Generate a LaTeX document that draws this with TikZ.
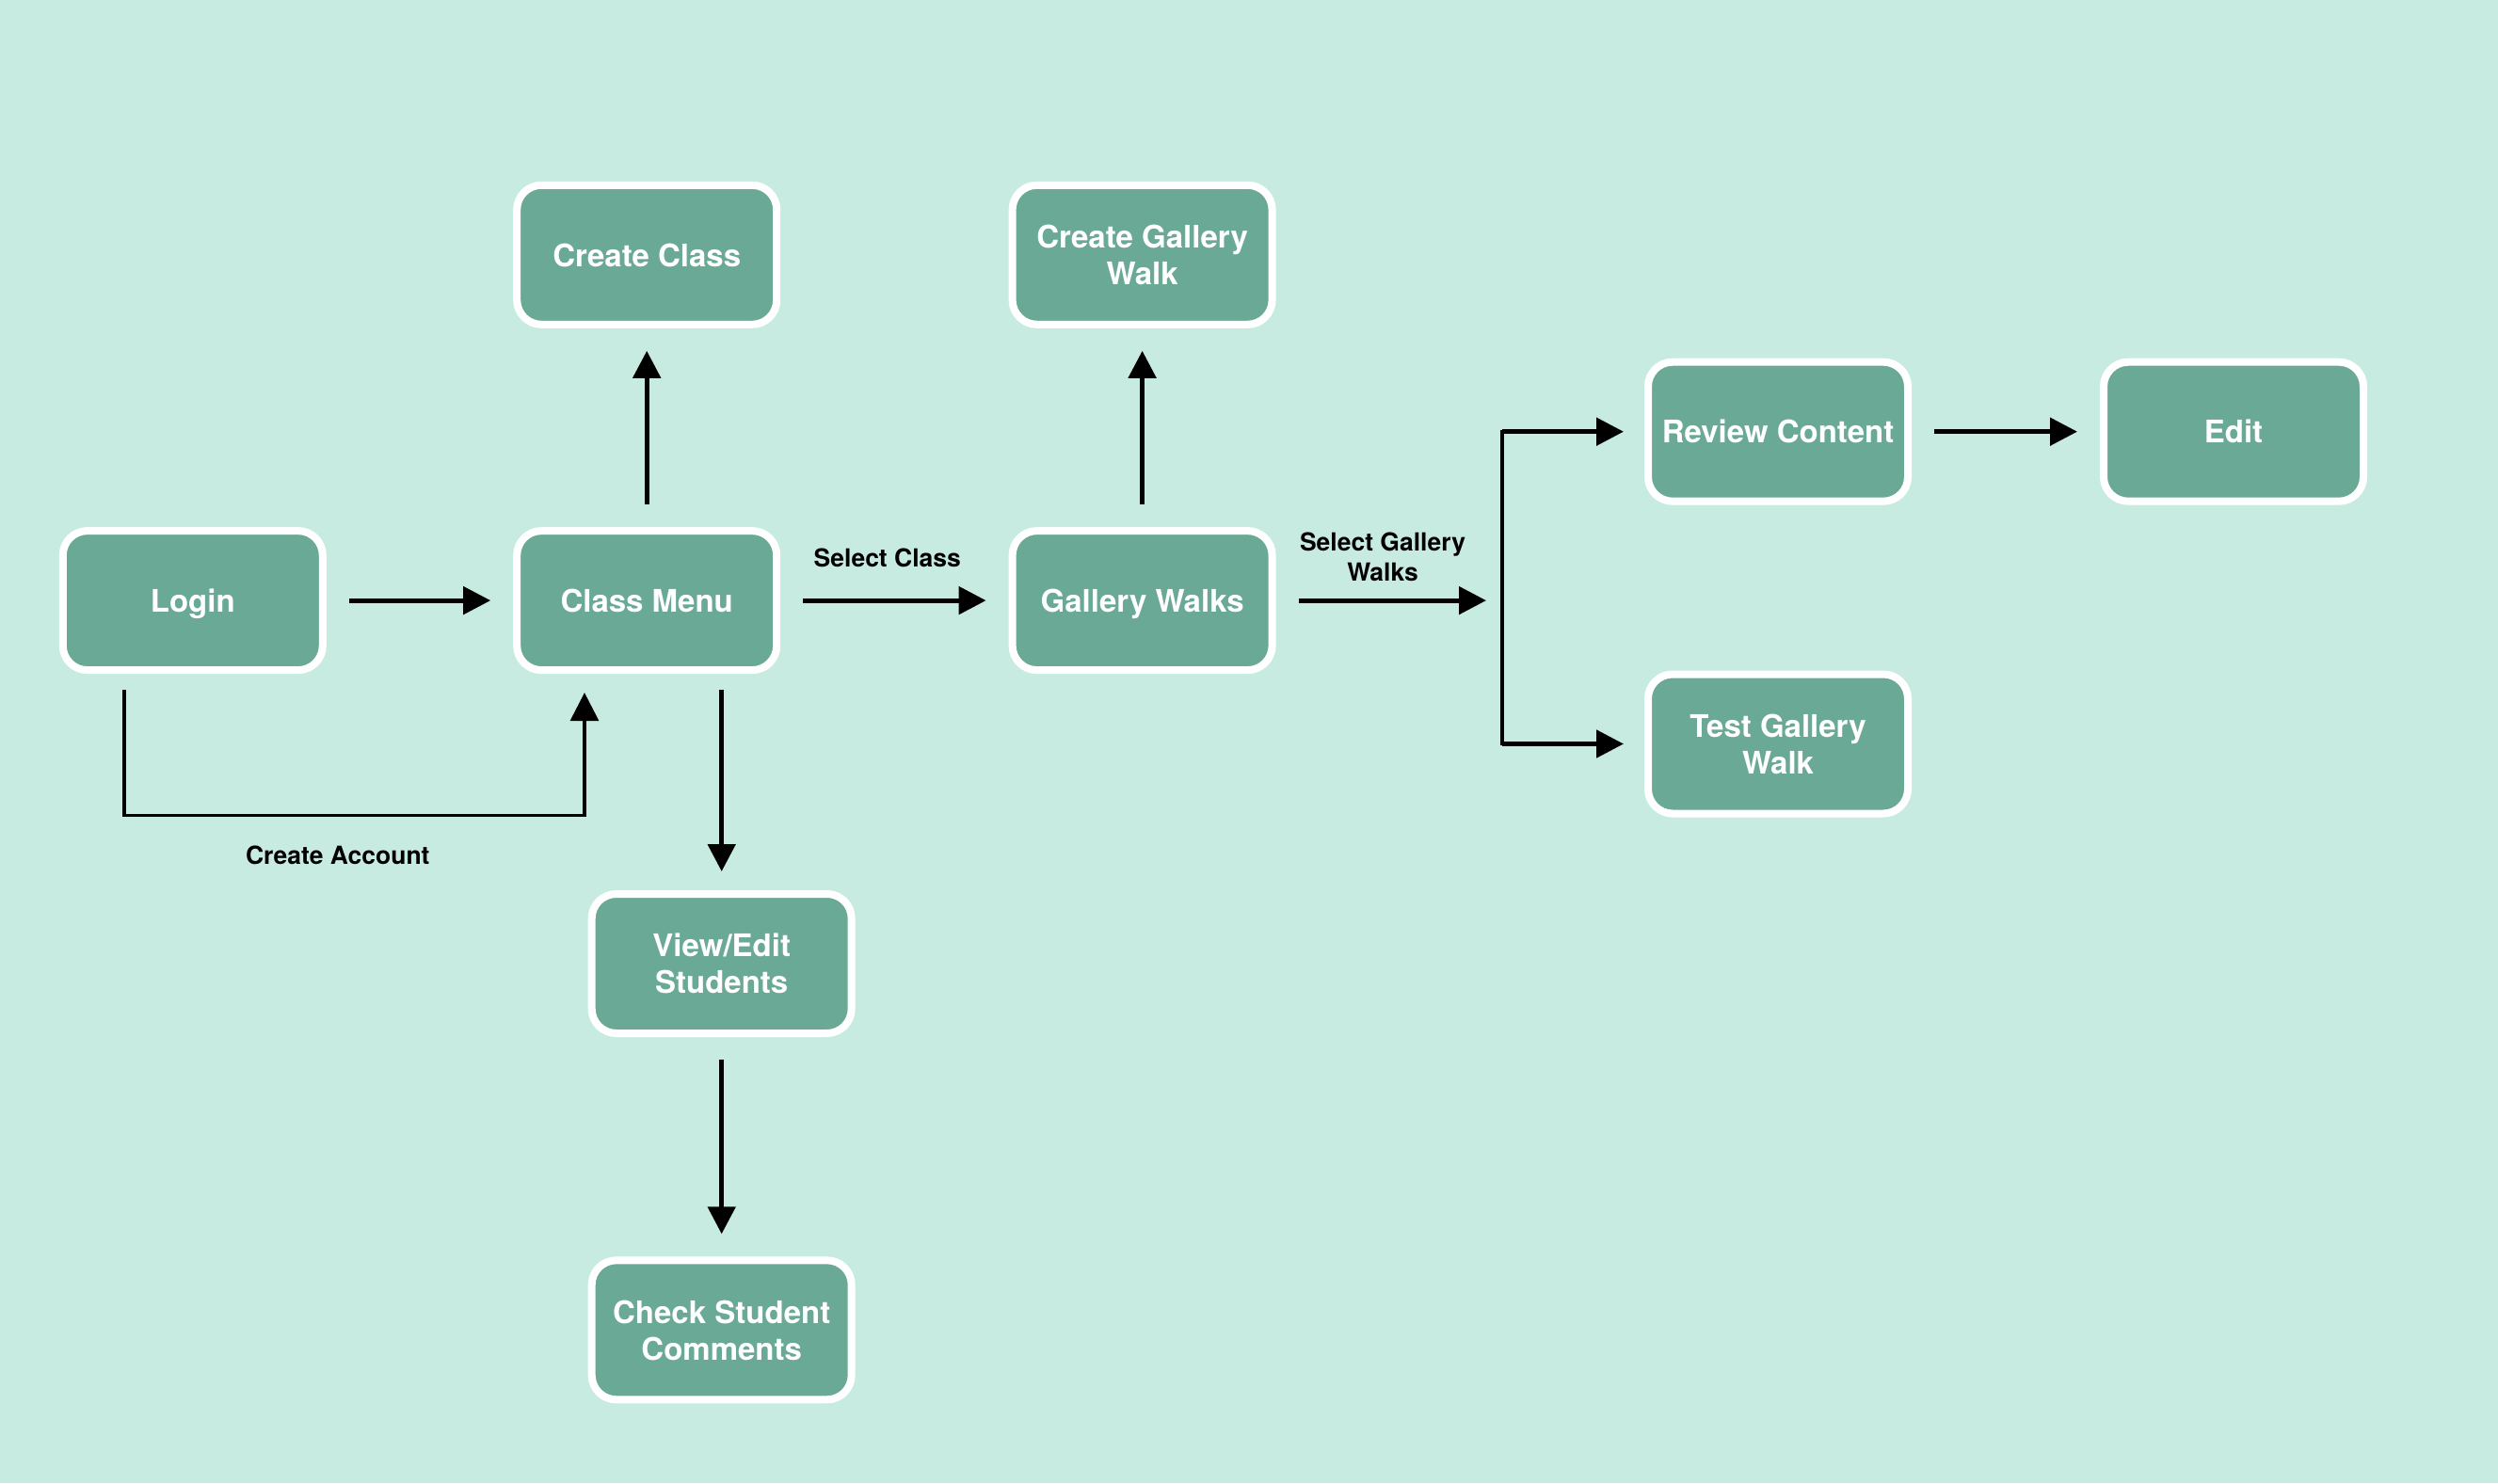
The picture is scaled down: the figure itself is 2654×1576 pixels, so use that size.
\documentclass[tikz,border=0pt]{standalone}
\usepackage{fontspec}
\setmainfont{TeX Gyre Heros}
\usetikzlibrary{arrows.meta}
\definecolor{bgcol}{RGB}{200,235,225}
\definecolor{boxcol}{RGB}{106,169,149}
\tikzset{
  box/.style={draw=white, line width=8pt, fill=boxcol, rounded corners=26pt,
    minimum width=276pt, minimum height=148pt, inner sep=0pt, align=center,
    text=white, text depth=0pt, font=\bfseries\fontsize{33}{39}\selectfont},
  arr/.style={line width=5pt, -{Triangle[length=29pt,width=29pt]},
    shorten <=24pt, shorten >=24pt},
  thinarr/.style={line width=3.2pt, -{Triangle[length=30pt,width=30pt]}},
  vline/.style={line width=3.3pt, line cap=rect},
  lbl/.style={align=center, text=black, inner sep=0pt,
    font=\bfseries\fontsize{26.5}{32}\selectfont}
}
\begin{document}
\begin{tikzpicture}[x=1pt,y=-1pt]
\fill[bgcol] (0,0) rectangle (2654,1576);
\useasboundingbox (0,0) rectangle (2654,1576);

\node[box] (login) at (204.8,638.1) {Login};
\node[box] (cm)    at (687.2,638.1) {Class Menu};
\node[box] (cc)    at (687.2,270.8) {Create Class};
\node[box] (cgw)   at (1213.6,270.8) {Create Gallery\\Walk};
\node[box] (gw)    at (1213.6,638.1) {Gallery Walks};
\node[box] (rev)   at (1889,458.7) {Review Content};
\node[box] (edit)  at (2373,458.7) {Edit};
\node[box] (tgw)   at (1889,790.5) {Test Gallery\\Walk};
\node[box] (ve)    at (766.7,1024) {View/Edit\\Students};
\node[box] (chk)   at (766.7,1413.3) {Check Student\\Comments};

% straight arrows
\draw[arr] (login) -- (cm);
\draw[arr] (cm) -- (gw);
\draw[arr] (cm) -- (cc);
\draw[arr] (gw) -- (cgw);
\draw[arr] (rev) -- (edit);
\draw[arr, shorten <=17pt, shorten >=20pt] (cm.south -| ve) -- (ve);
\draw[arr] (ve) -- (chk);

% create account
\coordinate (ca1) at (132,866.6);
\coordinate (ca2) at (621,866.6);
\draw[thinarr, shorten <=17pt, shorten >=20pt]
  ([xshift=-72.8pt]login.south) -- (ca1) -- (ca2) -- ([xshift=-66.2pt]cm.south);
\node[lbl] (lca) at (358.8,909) {Create Account};

% labels
\node[lbl] (lsc) at (942.8,592.4) {Select Class};
\node[lbl] (lsg) at (1469,592) {Select Gallery\\Walks};

% branch
\coordinate (br) at (1596,638.1);
\draw[arr, shorten >=17pt] (gw) -- (br);
\draw[vline] (br |- rev) -- (br |- tgw);
\draw[arr, shorten <=0pt, shorten >=22pt] (br |- rev) -- (rev);
\draw[arr, shorten <=0pt, shorten >=22pt] (br |- tgw) -- (tgw);
\end{tikzpicture}
\end{document}
